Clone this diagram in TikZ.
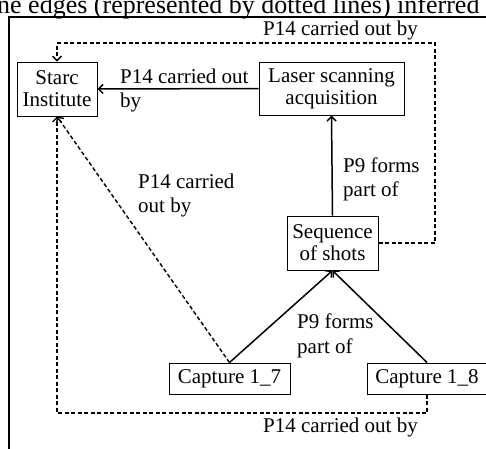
\documentclass[tikz,border=0pt]{standalone}
\usepackage{fontspec}
\setmainfont{Liberation Serif}
\usetikzlibrary{arrows.meta}
\tikzset{
  box/.style={draw, line width=1pt, inner sep=0pt, align=center,
    font=\fontsize{21}{22}\selectfont},
  lbl/.style={inner sep=0pt, align=left, anchor=north west,
    font=\fontsize{21}{24.5}\selectfont},
  solidarrow/.style={line width=1.5pt, -{Straight Barb[length=4.5pt,width=9pt]}},
  dasharrow/.style={line width=1.4pt, dash pattern=on 4pt off 2.5pt,
    -{Straight Barb[length=4.5pt,width=9pt]}},
  frame/.style={line width=2pt}
}
\begin{document}
\begin{tikzpicture}[x=1pt,y=-1pt]
\useasboundingbox (0,0) rectangle (486,448);
\begin{scope}
\clip (0,0) rectangle (486,448);
\node[inner sep=0pt, anchor=base west, font=\fontsize{26}{28}\selectfont] (cap) at (-3,13.5) {ne edges (represented by dotted lines) inferred};
\draw[frame] (487,17) -- (9,17) -- (9,449);

\node[box, minimum width=80pt, minimum height=54pt] (starc) at (57,89) {Starc\\Institute};
\node[box, minimum width=145pt, minimum height=53pt] (laser) at (331.5,88.5) {Laser scanning\\acquisition};
\node[box, minimum width=91pt, minimum height=54pt] (seq) at (332.5,243) {Sequence\\of shots};
\node[box, minimum width=121pt, minimum height=31pt] (c7) at (229.5,378.5) {Capture 1\_7};
\node[box, minimum width=120pt, minimum height=31pt] (c8) at (427,378.5) {Capture 1\_8};

\coordinate (tr) at (435,43);
\coordinate (br) at (57,413);

\draw[solidarrow] (laser.west) -- (starc.east);
\draw[solidarrow] (seq.north) -- (laser.south);
\draw[solidarrow] (c7.north) -- (seq.south);
\draw[solidarrow] (c8.north) -- (seq.south);
\draw[dasharrow] (seq.east) -| (tr) -| (starc.north);
\draw[dasharrow] (c8.south) |- (br) -- (starc.south);
\draw[dasharrow] (c7.north) -- (starc.south);

\node[lbl] (l1) at (120,68.7) {P14 carried out\\by};
\node[lbl] (l2) at (263,20.7) {P14 carried out by};
\node[lbl] (l3) at (343,157.4) {P9 forms\\part of};
\node[lbl] (l4) at (138,173.7) {P14 carried\\out by};
\node[lbl] (l5) at (297,313.7) {P9 forms\\part of};
\node[lbl] (l6) at (263,417.7) {P14 carried out by};
\end{scope}
\end{tikzpicture}
\end{document}
